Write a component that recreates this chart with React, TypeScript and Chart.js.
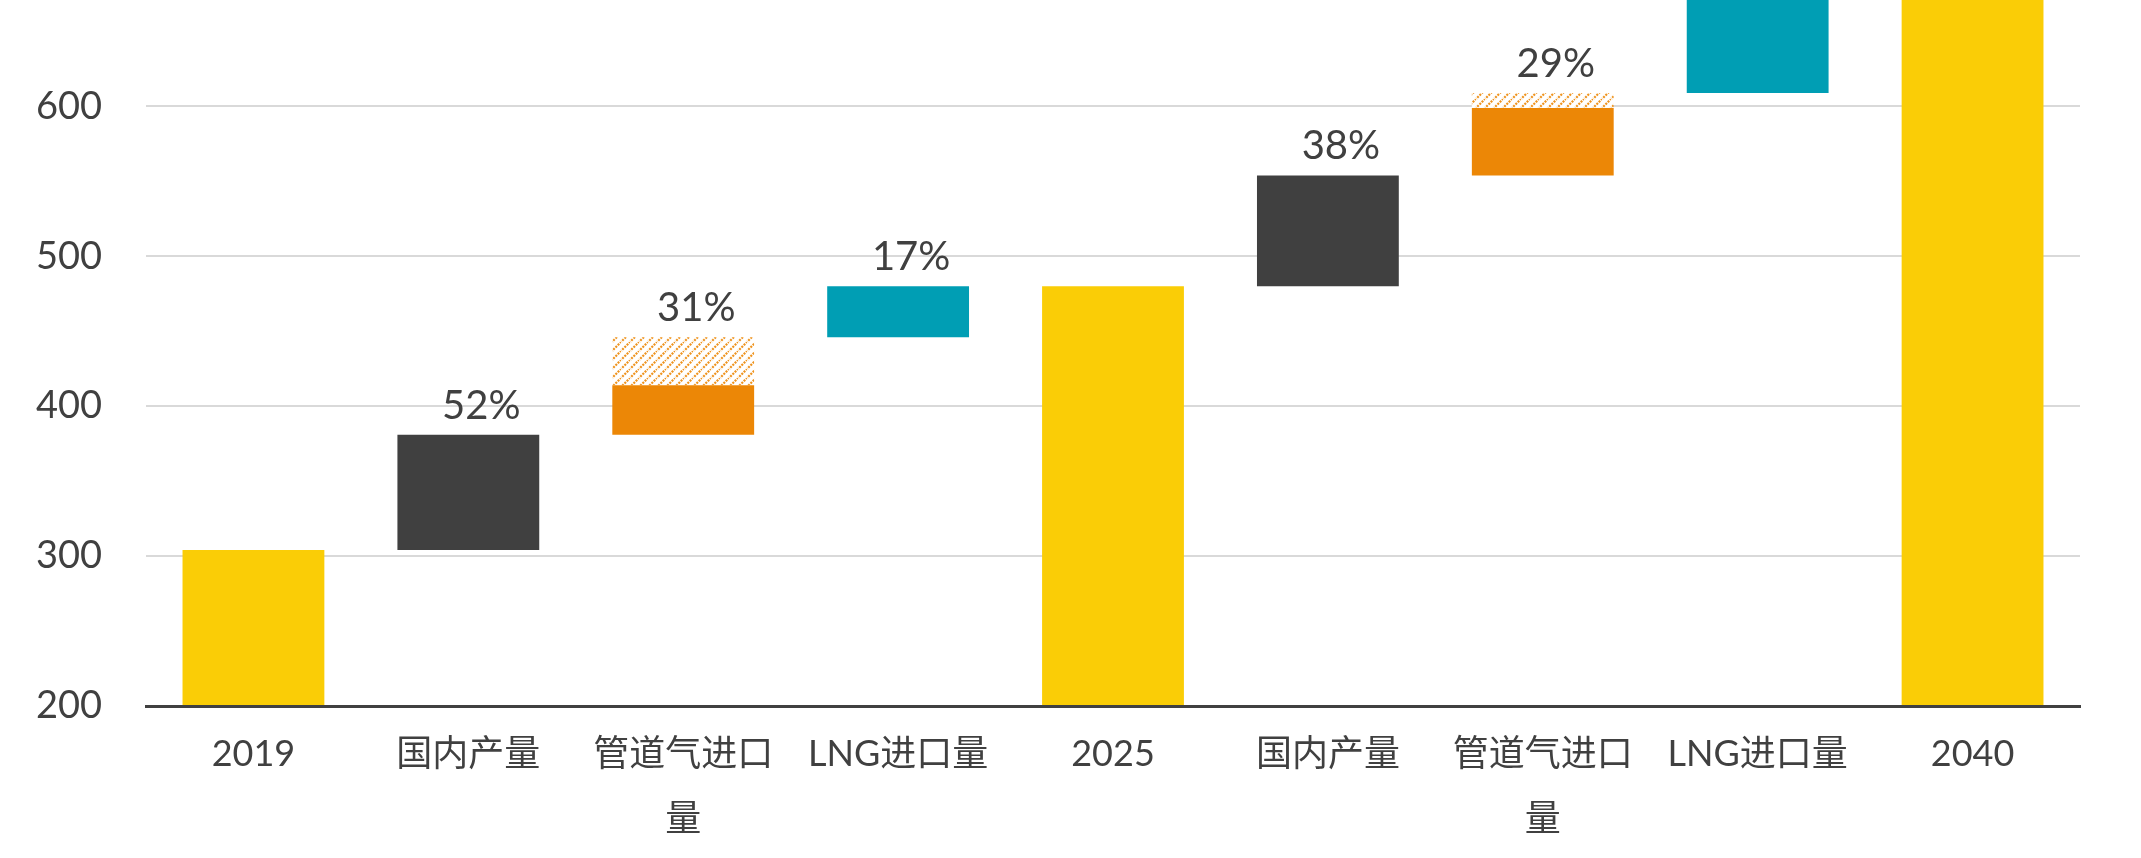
import React, { useEffect, useRef } from 'react';
import { Chart, registerables } from 'chart.js';

Chart.register(...registerables);

// ---- data ----
const categories: (string | string[])[] = [
  '2019',
  '国内产量',
  ['管道气进口', '量'],
  'LNG进口量',
  '2025',
  '国内产量',
  ['管道气进口', '量'],
  'LNG进口量',
  '2040',
];
const barLow = [200, 304, 381, 446, 200, 480, 554, 609, 200];
const barHigh = [304, 381, 414, 480, 480, 554, 599, 674, 674];
const hatchLow = [null, null, 414, null, null, null, 599, null, null];
const hatchHigh = [null, null, 446, null, null, null, 609, null, null];
const shareLabels = ['', '52%', '31%', '17%', '', '38%', '29%', '', ''];
const yTickValues = [200, 300, 400, 500, 600];

// ---- styles ----
const YELLOW = '#FACD06';
const DARK = '#404040';
const ORANGE = '#EC8706';
const TEAL = '#009EB4';
const barColors = [YELLOW, DARK, ORANGE, TEAL, YELLOW, DARK, ORANGE, TEAL, YELLOW];
const FONT = 'Lato, "Noto Sans CJK SC", sans-serif';

function makeHatch(): CanvasPattern | string {
  const s = 9;
  const c = document.createElement('canvas');
  c.width = s;
  c.height = s;
  const g = c.getContext('2d');
  if (!g) return ORANGE;
  g.fillStyle = '#ffffff';
  g.fillRect(0, 0, s, s);
  g.strokeStyle = 'rgba(236,135,6,0.9)';
  g.lineWidth = 2.2;
  g.setLineDash([2, 1.2]);
  g.beginPath();
  g.moveTo(-1, s + 1);
  g.lineTo(s + 1, -1);
  g.moveTo(-2, 2);
  g.lineTo(2, -2);
  g.moveTo(s - 2, s + 2);
  g.lineTo(s + 2, s - 2);
  g.stroke();
  const p = g.createPattern(c, 'repeat');
  return p || ORANGE;
}

const labelPlugin = {
  id: 'shareLabels',
  afterDatasetsDraw(chart: any) {
    const ctx = chart.ctx;
    const meta = chart.getDatasetMeta(0);
    const yScale = chart.scales.y;
    ctx.save();
    ctx.font = `40px ${FONT}`;
    ctx.fillStyle = DARK;
    ctx.textAlign = 'center';
    ctx.textBaseline = 'alphabetic';
    shareLabels.forEach((txt, i) => {
      if (!txt) return;
      const top = Math.max(barHigh[i], hatchHigh[i] ?? -Infinity);
      const y = yScale.getPixelForValue(top) - 16;
      const x = meta.data[i].x + 13;
      ctx.fillText(txt, x, y);
    });
    ctx.restore();
  },
};

export default function App() {
  const ref = useRef<HTMLCanvasElement | null>(null);

  useEffect(() => {
    if (!ref.current) return;
    const hatch = makeHatch();
    const chart = new Chart(ref.current, {
      type: 'bar',
      data: {
        labels: categories as any,
        datasets: [
          {
            data: barLow.map((lo, i) => [lo, barHigh[i]]) as any,
            backgroundColor: barColors,
            borderWidth: 0,
            barPercentage: 0.66,
            categoryPercentage: 1,
          },
          {
            data: hatchLow.map((lo, i) => (lo === null ? null : [lo, hatchHigh[i]])) as any,
            backgroundColor: hatch as any,
            borderWidth: 0,
            barPercentage: 0.66,
            categoryPercentage: 1,
          },
        ],
      },
      options: {
        animation: false,
        responsive: false,
        maintainAspectRatio: false,
        layout: { padding: { top: 0, right: 61, bottom: 0, left: 0 } },
        plugins: {
          legend: { display: false },
          tooltip: { enabled: false },
        },
        scales: {
          x: {
            stacked: true,
            grid: { display: false, drawTicks: false },
            border: { display: true, color: DARK, width: 3, z: 1 },
            ticks: {
              color: DARK,
              padding: 16,
              maxRotation: 0,
              autoSkip: false,
              font: { family: FONT, size: 36, lineHeight: 1.8 },
            },
            afterFit: (s: any) => {
              s.height = 152;
              s.paddingLeft = 0;
              s.paddingRight = 0;
            },
          },
          y: {
            min: 200,
            max: 671,
            grid: { color: '#D9D9D9', lineWidth: 2, drawTicks: false },
            border: { display: false },
            ticks: {
              stepSize: 100,
              color: DARK,
              padding: 44,
              font: { family: FONT, size: 38 },
            },
            afterBuildTicks: (axis: any) => {
              axis.ticks = yTickValues.map((v) => ({ value: v }));
            },
            afterFit: (s: any) => {
              s.width = 146;
              s.paddingTop = 0;
              s.paddingBottom = 0;
            },
          },
        },
      },
      plugins: [labelPlugin],
    });
    return () => chart.destroy();
  }, []);

  return (
    <div style={{ position: 'fixed', left: 0, top: 0, width: 2141, height: 858, background: '#fff' }}>
      <canvas ref={ref} width={2141} height={858} style={{ display: 'block' }} />
    </div>
  );
}
